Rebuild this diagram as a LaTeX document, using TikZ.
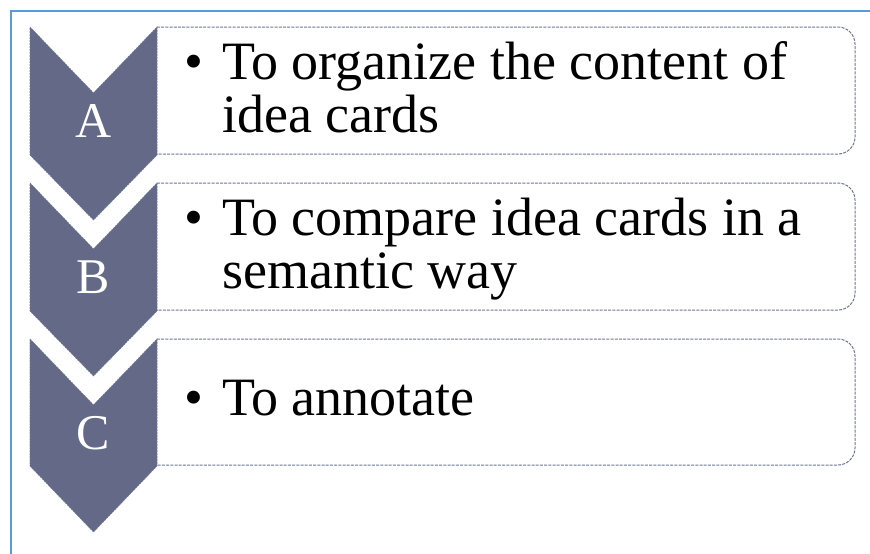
\documentclass[tikz,border=0pt]{standalone}
\usepackage{fontspec}
\setmainfont{Liberation Serif}
\definecolor{chev}{RGB}{99,105,135}
\definecolor{dashc}{RGB}{110,116,150}
\definecolor{frameblue}{RGB}{91,155,213}
\begin{document}
\begin{tikzpicture}[x=1pt,y=-1pt,
  chevshape/.style={fill=chev, draw=dashc, line width=0.6pt, dash pattern=on 2pt off 1pt},
  cardbox/.style={draw=dashc, line width=1pt, dash pattern=on 3pt off 1.2pt, rounded corners=17pt},
  letter/.style={text=white, anchor=base, inner sep=0pt, font=\fontsize{50}{50}\selectfont},
  item/.style={anchor=base west, inner sep=0pt, font=\fontsize{54}{53}\selectfont, align=left},
  frameline/.style={draw=frameblue, line width=2pt}]
\useasboundingbox (0,0) rectangle (870,554);
\draw[frameline] (11,554) -- (11,11) -- (870,11);
% row A
\draw[cardbox] (157,27) -- (855,27) -- (855,154) -- (157,154);
\filldraw[chevshape] (30,27) -- (93.5,93) -- (157,27) -- (157,155) -- (93.5,220) -- (30,155) -- cycle;
\node[letter] (lA) at (93.5,137) {A};
\node[item] (tA) at (184,79) {\begin{tabular}[t]{@{}p{38pt}@{}l@{}}\textbullet & To organize the content of\\ & idea cards\end{tabular}};
% row B
\draw[cardbox] (157,183) -- (855,183) -- (855,310) -- (157,310);
\filldraw[chevshape] (30,183) -- (93.5,249) -- (157,183) -- (157,311) -- (93.5,376) -- (30,311) -- cycle;
\node[letter] (lB) at (93.5,293) {B};
\node[item] (tB) at (184,235) {\begin{tabular}[t]{@{}p{38pt}@{}l@{}}\textbullet & To compare idea cards in a\\ & semantic way\end{tabular}};
% row C
\draw[cardbox] (157,339) -- (855,339) -- (855,465) -- (157,465);
\filldraw[chevshape] (30,339) -- (93.5,405) -- (157,339) -- (157,466) -- (93.5,532) -- (30,466) -- cycle;
\node[letter] (lC) at (93.5,449) {C};
\node[item] (tC) at (184,415) {\begin{tabular}[t]{@{}p{38pt}@{}l@{}}\textbullet & To annotate\end{tabular}};
\end{tikzpicture}
\end{document}
